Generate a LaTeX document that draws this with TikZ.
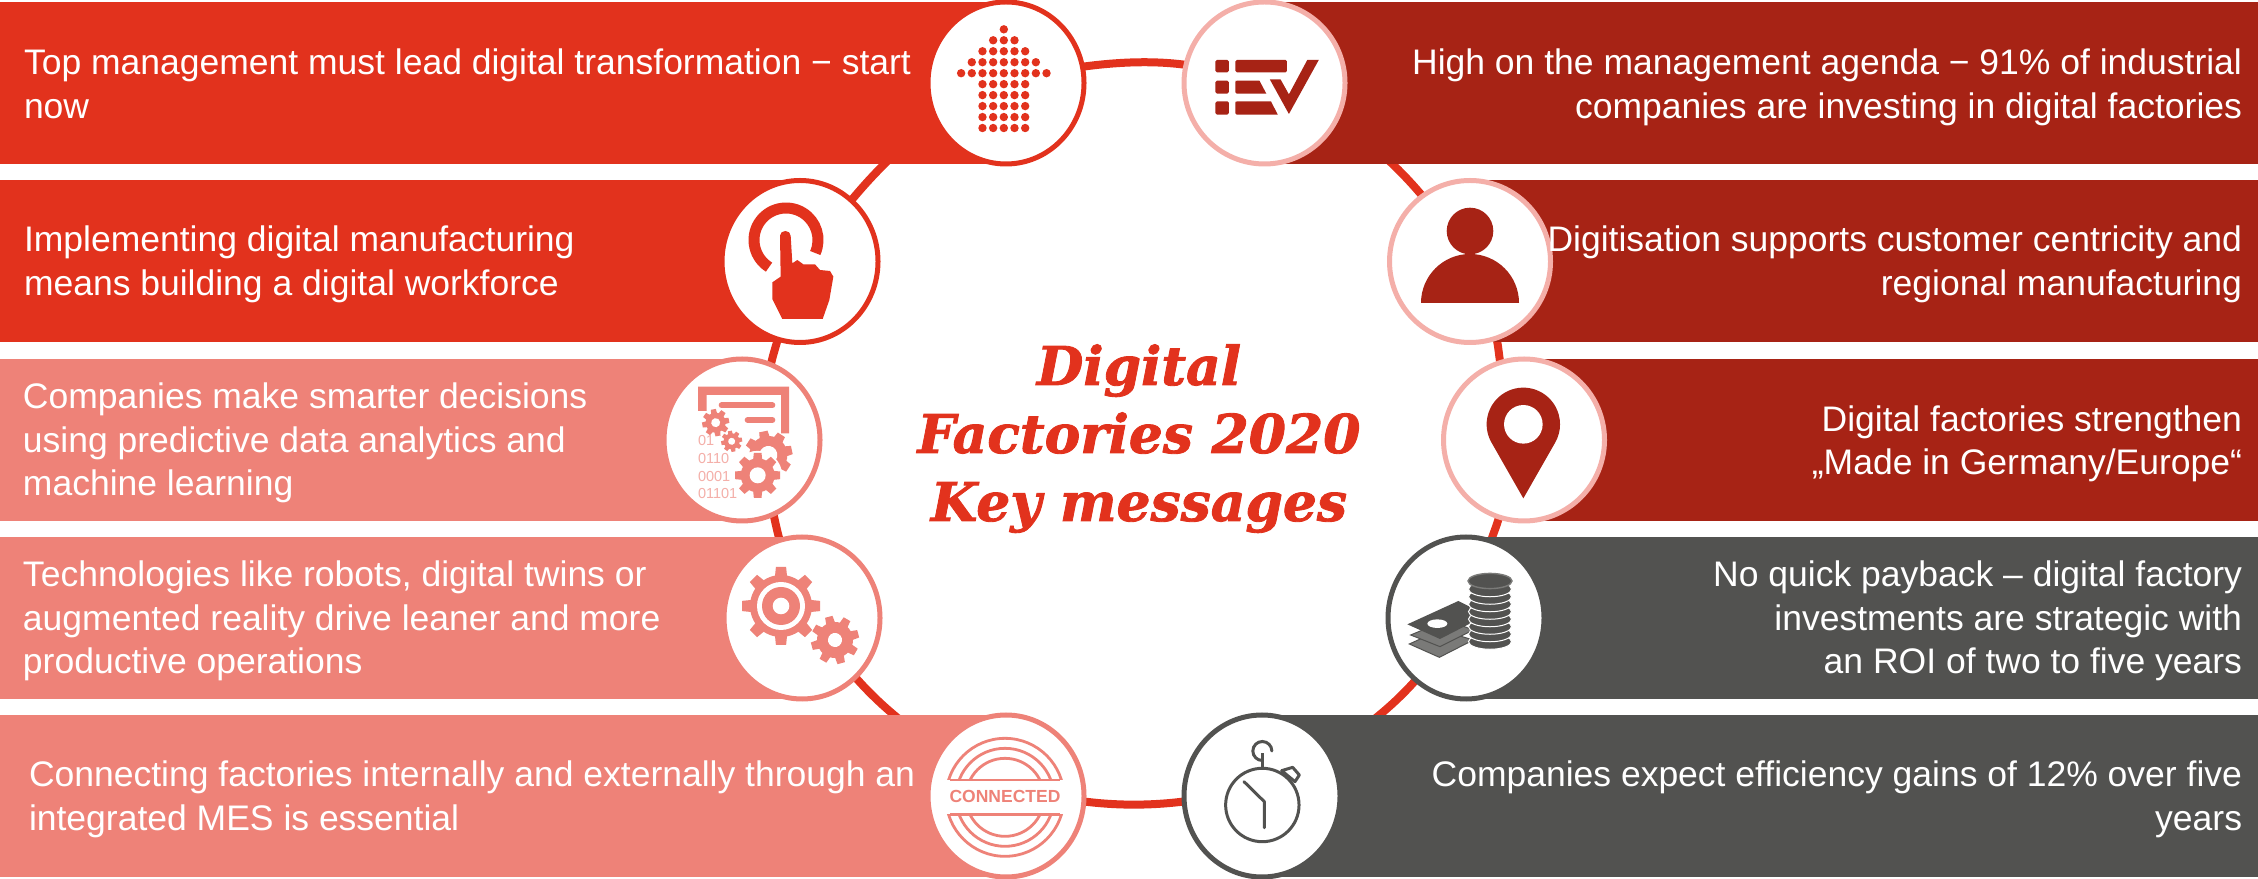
\documentclass[tikz,border=0pt]{standalone}
\usepackage{fontspec}
\setmainfont{Liberation Sans}
\newfontfamily\titlefam{DejaVu Serif}[BoldItalicFeatures={FakeBold=1.6}]
\usetikzlibrary{shapes.geometric}
\definecolor{cred}{HTML}{E2321D}
\definecolor{cdark}{HTML}{A72315}
\definecolor{cpink}{HTML}{EE8278}
\definecolor{cpale}{HTML}{F4AFA9}
\definecolor{cgray}{HTML}{525250}
\definecolor{cgraylt}{HTML}{7A7A78}
\pgfdeclarelayer{ringlayer}
\pgfsetlayers{ringlayer,main}
\tikzset{
  barnode/.style={rectangle,inner sep=0pt,outer sep=0pt,minimum height=162pt},
  badge/.style={ellipse,draw,fill=white,line width=5pt,inner sep=0pt,outer sep=0pt,minimum width=156pt,minimum height=162pt},
  bigbadge/.style={badge,minimum width=161pt},
  msg/.style={text=white,inner sep=0pt,outer sep=0pt,font=\fontsize{35.5}{43.5}\selectfont},
  msgl/.style={msg,anchor=west,align=left},
  msgr/.style={msg,anchor=east,align=right},
  ringline/.style={draw=cred,line width=8pt,looseness=0.85},
  zoomframe/.style 2 args={shift={(#1,878-#2)},x=0.33333pt,y=-0.33333pt},
  zoomframewide/.style 2 args={shift={(#1,878-#2)},x=0.38265pt,y=-0.33333pt},
  bits/.style={text=cpale,inner sep=0pt,outer sep=0pt,anchor=west,font=\fontsize{14.5}{17}\selectfont}
}
\newcommand{\cogwheel}[8]{%
  \begin{scope}[shift={(#1,#2)},rotate=#7]
    \fill[cpink] (0,0) circle[radius=#4pt];
    \foreach \k in {1,...,#6} {
      \fill[cpink,rotate={\k*360/#6}] (-#8pt,#4pt-1pt) -- (-#8pt*0.85,#3pt) -- (#8pt*0.85,#3pt) -- (#8pt,#4pt-1pt) -- cycle;
    }
    \fill[white] (0,0) circle[radius=#5pt];
  \end{scope}}
\begin{document}
\begin{tikzpicture}[x=1pt,y=1pt]
\path[use as bounding box] (0,0) rectangle (2258,878);
\begin{scope}[yshift=878pt,y=-1pt]
  % bars
  \node[barnode,fill=cred,anchor=west,minimum width=1006pt] (barL1) at (0,83) {};
  \node[barnode,fill=cred,anchor=west,minimum width=800pt] (barL2) at (0,261) {};
  \node[barnode,fill=cpink,anchor=west,minimum width=742pt] (barL3) at (0,440) {};
  \node[barnode,fill=cpink,anchor=west,minimum width=802pt] (barL4) at (0,618) {};
  \node[barnode,fill=cpink,anchor=west,minimum width=1006pt] (barL5) at (0,796) {};
  \node[barnode,fill=cdark,anchor=east,minimum width=994pt] (barR1) at (2258,83) {};
  \node[barnode,fill=cdark,anchor=east,minimum width=788pt] (barR2) at (2258,261) {};
  \node[barnode,fill=cdark,anchor=east,minimum width=733pt] (barR3) at (2258,440) {};
  \node[barnode,fill=cgray,anchor=east,minimum width=792pt] (barR4) at (2258,618) {};
  \node[barnode,fill=cgray,anchor=east,minimum width=996pt] (barR5) at (2258,796) {};
  % badges
  \node[badge,draw=cred] (L1) at (1006,83) {};
  \node[badge,draw=cred] (L2) at (800,261.5) {};
  \node[badge,draw=cpink] (L3) at (742,440) {};
  \node[badge,draw=cpink] (L4) at (802,618) {};
  \node[badge,draw=cpink] (L5) at (1006,796) {};
  \node[bigbadge,draw=cpale] (R1) at (1264.5,83) {};
  \node[bigbadge,draw=cpale] (R2) at (1470,261.5) {};
  \node[bigbadge,draw=cpale] (R3) at (1524,440) {};
  \node[badge,draw=cgray] (R4) at (1466,618) {};
  \node[badge,draw=cgray] (R5) at (1262,796) {};
\end{scope}
% ring connectors
\begin{pgfonlayer}{ringlayer}
  \path[ringline] (L1.12) to[out=7.7,in=172.4] (R1.167.7);
  \path[ringline] (R1.-27.7) to[out=-32.6,in=130] (R2.126.8);
  \path[ringline] (R2.-71.8) to[out=-75.3,in=101.5] (R3.107);
  \path[ringline] (R3.-108.6) to[out=-103.4,in=73.6] (R4.72.7);
  \path[ringline] (R4.-129.4) to[out=-131.3,in=31.5] (R5.34.3);
  \path[ringline] (R5.184.3) to[out=-172.7,in=-7.4] (L5.-4.2);
  \path[ringline] (L5.144.7) to[out=148.5,in=-48.7] (L4.-48.5);
  \path[ringline] (L4.106) to[out=106.3,in=-77.1] (L3.-67.8);
  \path[ringline] (L3.69.4) to[out=79,in=-104.5] (L2.-106.7);
  \path[ringline] (L2.50.5) to[out=50.2,in=212.7] (L1.-151.2);
\end{pgfonlayer}
% --- icon L1: dotted arrow
\begin{scope}[zoomframewide={850}{0}]
  \foreach \row/\a/\b in {0/0/0,1/-1/1,2/-2/2,3/-3/3,4/-4/4,5/-2/2,6/-2/2,7/-2/2,8/-2/2,9/-2/2}
    \foreach \c in {\a,...,\b}
      \fill[cred] ({402+\c*27.9},{88+\row*32.9}) circle[radius=4.2pt];
\end{scope}
% --- icon R1: list and check mark
\begin{scope}[zoomframewide={850}{0}]
  \fill[cdark,rounded corners=1.5pt] (955,180) rectangle (990,217);
  \fill[cdark,rounded corners=1.5pt] (955,242) rectangle (990,281);
  \fill[cdark,rounded corners=1.5pt] (955,304) rectangle (990,344);
  \fill[cdark,rounded corners=1.5pt] (1007,180) rectangle (1142,217);
  \fill[cdark] (1007,246) [rounded corners=1.5pt] -- (1007,242) [sharp corners] -- (1070,242) -- (1088,281) -- (1012,281) [rounded corners=1.5pt] -- (1007,281) -- cycle;
  \fill[cdark] (1007,308) [rounded corners=1.5pt] -- (1007,304) [sharp corners] -- (1100,304) -- (1118,344) -- (1012,344) [rounded corners=1.5pt] -- (1007,344) -- cycle;
  \fill[cdark] (1097,238) -- (1125,238) -- (1147,283) -- (1195,180) -- (1225,180) -- (1147,342) -- cycle;
\end{scope}
% --- icon L2: pressing hand
\begin{scope}[zoomframe={710}{175}]
  \draw[cred,line width=11pt] (228,195) ++(238:32pt) arc[start angle=238,end angle=-24,radius=32pt];
  \fill[cred] (210,182) to[out=90,in=180] (226,168) to[out=0,in=90] (242,182) -- (247,265) -- (262,255) -- (280,268) -- (315,268) -- (330,285) -- (360,288) -- (370,305) -- (358,375) -- (338,432) -- (217,432) -- (187,372) -- (187,322) -- (212,305) -- cycle;
\end{scope}
% --- icon R2: person
\begin{scope}[zoomframe={1380}{175}]
  \fill[cdark] (270,168) circle[radius=23.3pt];
  \fill[cdark] (270,384) ++(-49pt,0pt) arc[start angle=180,end angle=0,radius=49pt] -- cycle;
\end{scope}
% --- icon L3: data analytics
\begin{scope}[zoomframe={620}{340}]
  \fill[cpink] (234,140) -- (507,140) -- (507,280) -- (483,280) -- (483,165) -- (260,165) -- (260,213) -- (234,213) -- cycle;
  \draw[cpink,line width=6pt,line cap=round] (305,196) -- (457,196);
  \draw[cpink,line width=6pt,line cap=round] (383,240) -- (457,240);
  \cogwheel{445}{345}{24}{19}{9}{8}{12}{5}
  \fill[white] (413,406) circle[radius=24.5pt];
  \cogwheel{413}{406}{22.5}{17}{8}{8}{0}{4.5}
  \cogwheel{287}{248}{13.5}{10}{4.5}{8}{10}{3}
  \cogwheel{335}{304}{10.5}{8}{3.5}{8}{10}{2.3}
  \node[bits] (bits1) at (234,303) {01};
  \node[bits] (bits2) at (234,356) {0110};
  \node[bits] (bits3) at (234,410) {0001};
  \node[bits] (bits4) at (234,460) {01101};
\end{scope}
% --- icon L4: gears
\begin{scope}[zoomframe={620}{340}]
  \cogwheel{483}{798}{39}{31}{24}{8}{0}{6}
  \fill[cpink] (483,798) circle[radius=19pt];
  \fill[white] (483,798) circle[radius=8.3pt];
  \cogwheel{645}{900}{24}{18}{7}{8}{15}{4.5}
\end{scope}
% --- icon R3: location pin
\begin{scope}[zoomframe={1360}{340}]
  \fill[cdark] (490,253) ++(210:36.7pt) arc[start angle=210,end angle=-30,radius=36.7pt] -- (490,475) -- cycle;
  \fill[white] (490,253) circle[radius=19.3pt];
\end{scope}
% --- icon R4: money
\begin{scope}[zoomframe={1360}{340}]
  \fill[cgraylt,draw=cgray,line width=1pt] (148,912) -- (240,870) -- (340,900) -- (238,952) -- cycle;
  \fill[cgraylt,draw=cgray,line width=1pt] (152,885) -- (260,840) -- (340,870) -- (240,920) -- cycle;
  \fill[cgray] (142,853) -- (295,783) -- (380,825) -- (240,897) -- cycle;
  \fill[white] (232,851) ellipse[x radius=10pt,y radius=4.3pt];
  \foreach \yy in {905,882.5,860,837.5,815,792.5,770,747.5} {
    \fill[cgray,draw=white,line width=1pt] (390,\yy) ellipse[x radius=21.5pt,y radius=7.6pt];
  }
  \fill[cgray,draw=cgraylt,line width=1.4pt] (390,723) ellipse[x radius=22pt,y radius=7.6pt];
\end{scope}
% --- icon L5: connected stamp
\begin{scope}[zoomframe={880}{680}]
  \begin{scope}
    \clip (150,100) rectangle (600,300);
    \foreach \rr in {39,49,59} \draw[cpink,line width=2.8pt] (375,352) circle[radius=\rr pt];
  \end{scope}
  \begin{scope}
    \clip (150,403) rectangle (600,590);
    \foreach \rr in {39,49,59} \draw[cpink,line width=2.8pt] (375,352) circle[radius=\rr pt];
  \end{scope}
  \draw[cpink,line width=2.8pt] (210,300) -- (541,300);
  \draw[cpink,line width=2.8pt] (210,403) -- (541,403);
  \node[text=cpink,inner sep=0pt,font=\bfseries\fontsize{17.5}{20}\selectfont] (stamp) at (375,350) {CONNECTED};
\end{scope}
% --- icon R5: stopwatch
\begin{scope}[zoomframe={880}{680}]
  \draw[cgray,line width=3pt] (1147,375) circle[radius=36.7pt];
  \draw[cgray,line width=3pt,line cap=round,line join=round] (1092,305) -- (1153,365) -- (1153,443);
  \draw[cgray,line width=3pt] (1147,262) -- (1147,220);
  \draw[cgray,line width=3pt,line cap=round] (1147,213) ++(0:9.5pt) arc[start angle=0,end angle=270,radius=9.5pt];
  \draw[cgray,line width=3pt,line join=round,fill=white] (1205,272) -- (1238,262) -- (1258,285) -- (1245,305) -- cycle;
\end{scope}
\begin{scope}[yshift=878pt,y=-1pt]
  % title
  \node[text=cred,inner sep=0pt,align=center,font=\titlefam\bfseries\itshape\fontsize{53.5}{68}\selectfont] (title) at (1139,439.4) {\strut Digital\\\strut Factories 2020\\\strut Key messages};
  % messages
  \node[msgl] (tL1) at (24,88) {\strut Top management must lead digital transformation − start\\\strut now};
  \node[msgl] (tL2) at (24,265) {\strut Implementing digital manufacturing\\\strut means building a digital workforce};
  \node[msgl] (tL3) at (23,443.8) {\strut Companies make smarter decisions\\\strut using predictive data analytics and\\\strut machine learning};
  \node[msgl] (tL4) at (23,621.8) {\strut Technologies like robots, digital twins or\\\strut augmented reality drive leaner and more\\\strut productive operations};
  \node[msgl] (tL5) at (29,800) {\strut Connecting factories internally and externally through an\\\strut integrated MES is essential};
  \node[msgr] (tR1) at (2242,88) {\strut High on the management agenda − 91\% of industrial\\\strut companies are investing in digital factories};
  \node[msgr] (tR2) at (2242,265) {\strut Digitisation supports customer centricity and\\\strut regional manufacturing};
  \node[msgr] (tR3) at (2242,444.5) {\strut Digital factories strengthen\\\strut „Made in Germany/Europe“};
  \node[msgr] (tR4) at (2242,621.8) {\strut No quick payback – digital factory\\\strut investments are strategic with\\\strut an ROI of two to five years};
  \node[msgr] (tR5) at (2242,800) {\strut Companies expect efficiency gains of 12\% over five\\\strut years};
\end{scope}
\end{tikzpicture}
\end{document}
